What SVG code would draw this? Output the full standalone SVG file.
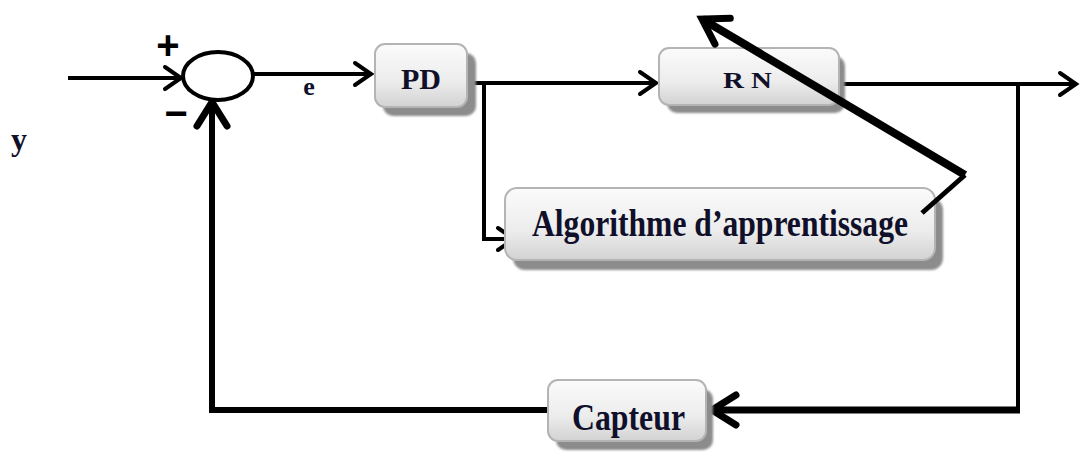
<svg xmlns="http://www.w3.org/2000/svg" width="1080" height="452" viewBox="0 0 1080 452">
  <defs>
    <linearGradient id="boxFill" x1="0" y1="0" x2="0" y2="1">
      <stop offset="0" stop-color="#fbfbfb"/>
      <stop offset="0.6" stop-color="#ececec"/>
      <stop offset="1" stop-color="#d2d2d2"/>
    </linearGradient>
    <filter id="blur" x="-10%" y="-10%" width="120%" height="120%">
      <feGaussianBlur stdDeviation="1.2"/>
    </filter>
    <marker id="arrS" markerUnits="userSpaceOnUse" markerWidth="40" markerHeight="40" refX="0" refY="0" orient="auto" overflow="visible">
      <path d="M -16 -11 L 0 0 L -16 11" fill="none" stroke="#000" stroke-width="4" stroke-linecap="round" stroke-linejoin="miter"/>
    </marker>
    <marker id="arrL" markerUnits="userSpaceOnUse" markerWidth="60" markerHeight="60" refX="0" refY="0" orient="auto" overflow="visible">
      <path d="M -24 -15 L 0 0 L -24 15" fill="none" stroke="#000" stroke-width="7" stroke-linecap="round" stroke-linejoin="miter"/>
    </marker>
  </defs>
  <style>
    .shadow { fill: #8c8c8c; filter: url(#blur); }
    .box { fill: url(#boxFill); stroke: #b4b4b4; stroke-width: 2; }
    .lbl { font-family: "Liberation Serif", "Times New Roman", serif; font-weight: bold; fill: #10102a; }
    .sign { font-family: "Liberation Sans", Arial, sans-serif; font-weight: bold; fill: #000; }
    .wire { fill: none; stroke: #000; stroke-linecap: butt; stroke-linejoin: miter; }
  </style>
  <rect width="1080" height="452" fill="#fff"/>

  <g id="connectors">
    <line class="wire" x1="68" y1="78" x2="181" y2="78" stroke-width="4" marker-end="url(#arrS)"/>
    <line class="wire" x1="252" y1="74" x2="371" y2="74" stroke-width="4" marker-end="url(#arrS)"/>
    <line class="wire" x1="462" y1="83" x2="656" y2="83" stroke-width="4" marker-end="url(#arrS)"/>
    <polyline class="wire" points="484,83 484,239 514,239" stroke-width="4" marker-end="url(#arrS)"/>
    <line class="wire" x1="838" y1="84" x2="1076" y2="84" stroke-width="4" marker-end="url(#arrS)"/>
    <line class="wire" x1="1018" y1="84" x2="1018" y2="412" stroke-width="4"/>
    <line class="wire" x1="1020" y1="410" x2="712" y2="410" stroke-width="7" marker-end="url(#arrL)"/>
    <polyline class="wire" points="548,410 212,410 212,102" stroke-width="6" marker-end="url(#arrL)"/>
  </g>

  <g id="sum">
    <ellipse cx="218" cy="76" rx="35" ry="24" fill="#fff" stroke="#000" stroke-width="4"/>
    <text class="sign" x="168" y="59" font-size="40" text-anchor="middle">+</text>
    <text class="sign" x="176" y="127" font-size="40" text-anchor="middle">−</text>
  </g>

  <g id="label-e">
    <text class="lbl" x="309" y="95" font-size="26" text-anchor="middle">e</text>
  </g>

  <g id="label-y">
    <text class="lbl" x="19" y="150" font-size="32" text-anchor="middle">y</text>
  </g>

  <g id="node-pd">
    <rect class="shadow" x="383" y="53" width="93" height="63" rx="10"/>
    <rect class="box" x="375" y="44" width="92" height="63" rx="10"/>
    <text class="lbl" x="421" y="89" font-size="30" text-anchor="middle">PD</text>
  </g>

  <g id="node-rn">
    <rect class="shadow" x="667" y="56" width="178" height="57" rx="10"/>
    <rect class="box" x="659" y="48" width="180" height="57" rx="10"/>
    <text class="lbl" x="723" y="88" font-size="24" textLength="49" lengthAdjust="spacingAndGlyphs">R N</text>
  </g>

  <g id="node-algo">
    <rect class="shadow" x="513" y="198" width="430" height="72" rx="12"/>
    <rect class="box" x="505" y="188" width="430" height="72" rx="12"/>
    <text class="lbl" x="532" y="236" font-size="38" textLength="376" lengthAdjust="spacingAndGlyphs">Algorithme d’apprentissage</text>
  </g>

  <g id="node-capteur">
    <rect class="shadow" x="556" y="389" width="157" height="61" rx="10"/>
    <rect class="box" x="548" y="380" width="158" height="61" rx="10"/>
    <text class="lbl" x="572" y="430" font-size="38" textLength="113" lengthAdjust="spacingAndGlyphs">Capteur</text>
  </g>

  <g id="adapt-arrow">
    <polyline class="wire" points="922,213 965,175" stroke-width="5"/>
    <line class="wire" x1="965" y1="175" x2="702" y2="19" stroke-width="8" marker-end="url(#arrL)"/>
  </g>
</svg>
